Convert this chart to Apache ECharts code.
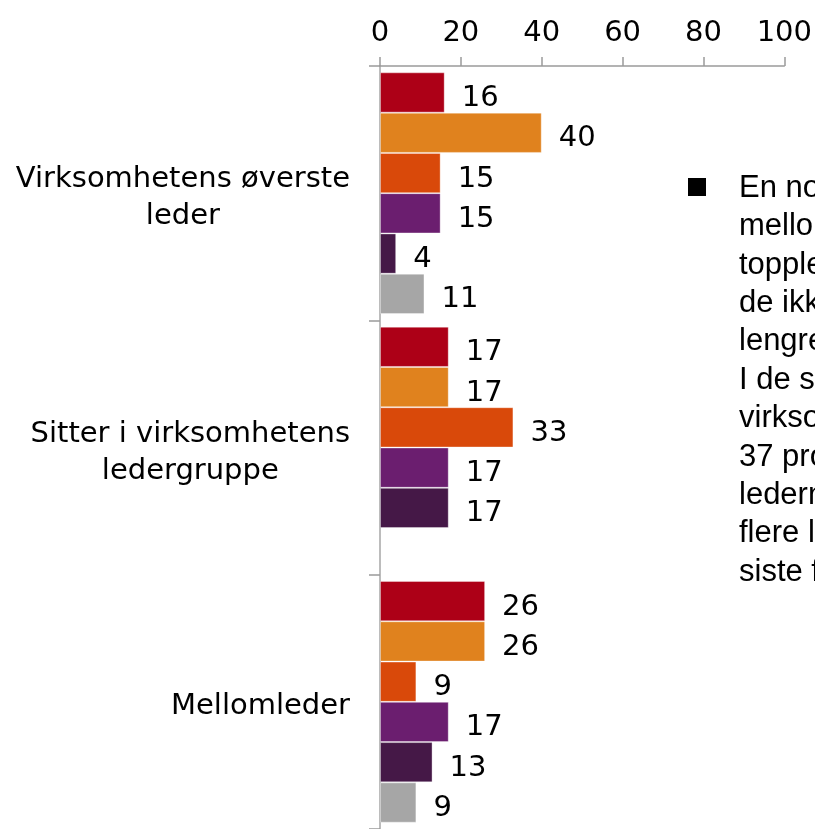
<!DOCTYPE html>
<html>
<head>
<meta charset="utf-8">
<script src="https://cdn.jsdelivr.net/npm/echarts@6/dist/echarts.min.js"></script>
<style>
  html, body { margin: 0; padding: 0; background: #fff; }
  #chart { width: 815px; height: 829px; }
</style>
</head>
<body>
<div id="chart"></div>
<script>
// kategorier (ovenfra og ned)
var categories = ['Virksomhetens øverste\nleder', 'Sitter i virksomhetens\nledergruppe', 'Mellomleder'];
// seks serier, i rekkefølge ovenfra i hver gruppe
var serie1 = [16, 17, 26];
var serie2 = [40, 17, 26];
var serie3 = [15, 33, 9];
var serie4 = [15, 17, 17];
var serie5 = [4, 17, 13];
var serie6 = [11, null, 9];
var colors = ['#AD0017', '#E0821E', '#D9490A', '#6B1E6F', '#451847', '#A6A6A6'];
var xTicks = [0, 20, 40, 60, 80, 100];
var noteLines = [
    'En noe større andel av',
    'mellomlederne enn',
    'topplederne svarer at',
    'de ikke har vært ledere',
    'lengre enn fem år.',
    'I de store',
    'virksomhetene svarer',
    '37 prosent av',
    'lederne at de har hatt',
    'flere lederjobber de',
    'siste fem årene.'
];

var font = '"DejaVu Sans", Verdana, sans-serif';
var allSeries = [serie1, serie2, serie3, serie4, serie5, serie6];

var myChart = echarts.init(document.getElementById('chart'));
var option = {
    animation: false,
    grid: {
        left: 380,
        right: 30,
        top: 66,
        height: 768
    },
    xAxis: {
        type: 'value',
        position: 'top',
        min: xTicks[0],
        max: xTicks[xTicks.length - 1],
        interval: 20,
        splitLine: { show: false },
        axisLine: { show: true, lineStyle: { color: '#9a9a9a', width: 1.5 } },
        axisTick: { show: true, length: 9, lineStyle: { color: '#9a9a9a', width: 1.5 } },
        axisLabel: { color: '#000', fontSize: 29, fontFamily: font, margin: 18 }
    },
    yAxis: {
        type: 'category',
        inverse: true,
        data: categories,
        axisLine: { show: true, lineStyle: { color: '#a6a6a6', width: 1.5 } },
        axisTick: { show: true, length: 11, lineStyle: { color: '#9a9a9a', width: 1.5 } },
        axisLabel: {
            margin: 30,
            padding: [10, 0, 0, 0],
            formatter: function (v) {
                return v.split('\n').map(function (s) { return '{c|' + s + '}'; }).join('\n');
            },
            rich: {
                c: { align: 'center', fontSize: 29, lineHeight: 37, fontFamily: font, color: '#000' }
            }
        }
    },
    series: allSeries.map(function (d, i) {
        return {
            type: 'bar',
            data: d,
            barGap: '0%',
            barCategoryGap: '5%',
            itemStyle: { color: colors[i], borderColor: 'rgba(255,255,255,0.35)', borderWidth: 1 },
            label: {
                show: true,
                position: 'right',
                distance: 17,
                offset: [0, 6],
                color: '#000',
                fontSize: 29,
                fontFamily: font
            }
        };
    }),
    graphic: [
        {
            type: 'rect',
            left: 688,
            top: 178,
            shape: { width: 18, height: 18 },
            style: { fill: '#000' }
        },
        {
            type: 'text',
            left: 739,
            top: 169,
            style: {
                text: noteLines.join('\n'),
                font: '31px "Liberation Sans", Arial, sans-serif',
                lineHeight: 38.4,
                fill: '#000'
            }
        }
    ]
};
myChart.setOption(option);
</script>
</body>
</html>
